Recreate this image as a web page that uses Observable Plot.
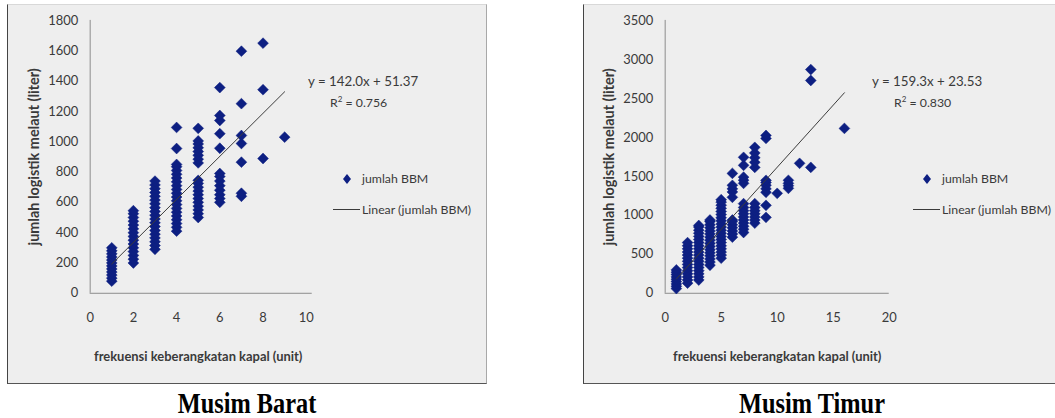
<!DOCTYPE html>
<html>
<head>
<meta charset="utf-8">
<script src="https://cdn.jsdelivr.net/npm/d3@7"></script>
<script src="https://cdn.jsdelivr.net/npm/@observablehq/plot@0.6"></script>
<style>
  html, body { margin: 0; padding: 0; background: #ffffff; }
  #page { position: relative; width: 1055px; height: 418px; overflow: hidden; background: #fff; }
  .panel { position: absolute; top: 4px; height: 380px; background: #eeeeee;
           border-style: solid; border-width: 1px; border-color: #d8d8d8 #a8a8a8 #555 #444; box-sizing: border-box; }
  .panel svg { position: absolute; left: 0; top: 0; overflow: visible; }
  .txt { position: absolute; font-family: Lato, "Liberation Sans", sans-serif; font-size: 12.3px; color: #3a3a3a; white-space: nowrap; line-height: 1; }
  .title { position: absolute; font-family: "Liberation Serif", "Times New Roman", serif; font-weight: bold; font-size: 29px; color: #000; white-space: nowrap; transform: translateX(-50%) scaleX(0.84); transform-origin: center; line-height: 1; }
  g[aria-label="y-axis label"] text { font-weight: bold; font-size: 14.5px; }
  g[aria-label="x-axis label"] text { font-weight: bold; font-size: 13px; }
</style>
</head>
<body>
<div id="page"></div>
<script>
// ---------- DATA ----------
const seasons = ["Musim Barat", "Musim Timur"];
const yAxisTitle = "jumlah logistik melaut (liter)";
const xAxisTitle = "frekuensi keberangkatan kapal (unit)";
const seriesName = "jumlah BBM";
const trendName = "Linear (jumlah BBM)";

// Musim Barat: [frekuensi, liter]
const baratPoints = [
  [1,80],[1,100],[1,120],[1,140],[1,160],[1,180],[1,200],[1,220],[1,240],[1,260],[1,280],[1,300],
  [2,200],[2,225],[2,250],[2,275],[2,300],[2,325],[2,350],[2,375],[2,400],[2,425],[2,450],[2,475],[2,500],[2,525],[2,545],
  [3,290],[3,315],[3,340],[3,365],[3,390],[3,415],[3,440],[3,465],[3,490],[3,515],[3,540],[3,565],[3,590],[3,615],[3,640],[3,665],[3,690],[3,715],[3,740],
  [4,410],[4,435],[4,460],[4,485],[4,510],[4,535],[4,560],[4,585],[4,610],[4,635],[4,660],[4,685],[4,710],[4,735],[4,760],[4,785],[4,810],[4,835],[4,850],[4,955],[4,1094],
  [5,500],[5,525],[5,550],[5,575],[5,600],[5,625],[5,650],[5,675],[5,700],[5,725],[5,745],[5,860],[5,885],[5,910],[5,935],[5,960],[5,985],[5,1005],[5,1088],
  [6,600],[6,625],[6,650],[6,680],[6,710],[6,740],[6,770],[6,790],[6,957],[6,1053],[6,1140],[6,1173],[6,1357],
  [7,640],[7,660],[7,865],[7,988],[7,1041],[7,1251],[7,1597],
  [8,889],[8,1343],[8,1650],
  [9,1030]
];
// Musim Timur: [frekuensi, liter]
const timurPoints = [
  [1,60],[1,90],[1,120],[1,150],[1,180],[1,210],[1,240],[1,270],[1,300],
  [2,130],[2,170],[2,210],[2,250],[2,290],[2,330],[2,370],[2,410],[2,450],[2,490],[2,530],[2,570],[2,610],[2,650],
  [3,170],[3,210],[3,250],[3,290],[3,330],[3,370],[3,410],[3,450],[3,490],[3,530],[3,570],[3,610],[3,650],[3,690],[3,730],[3,770],[3,810],[3,850],[3,870],
  [4,360],[4,400],[4,440],[4,480],[4,520],[4,560],[4,600],[4,640],[4,680],[4,720],[4,760],[4,800],[4,840],[4,880],[4,920],[4,940],
  [5,450],[5,490],[5,530],[5,570],[5,610],[5,650],[5,690],[5,730],[5,770],[5,810],[5,850],[5,890],[5,930],[5,970],[5,1010],[5,1050],[5,1090],[5,1130],[5,1170],[5,1200],
  [6,720],[6,760],[6,800],[6,840],[6,880],[6,920],[6,940],[6,1231],[6,1300],[6,1340],[6,1385],[6,1538],
  [7,780],[7,820],[7,860],[7,900],[7,940],[7,980],[7,1020],[7,1060],[7,1100],[7,1150],[7,1410],[7,1450],[7,1490],[7,1641],[7,1744],
  [8,900],[8,940],[8,980],[8,1020],[8,1060],[8,1100],[8,1150],[8,1615],[8,1680],[8,1740],[8,1800],[8,1872],
  [9,974],[9,1128],[9,1295],[9,1340],[9,1385],[9,1420],[9,1449],[9,1987],[9,2025],
  [10,1282],
  [11,1346],[11,1380],[11,1410],[11,1449],
  [12,1667],
  [13,1615],[13,2730],[13,2870],
  [16,2115]
];

const baratXTicks = [0, 2, 4, 6, 8, 10];
const baratYTicks = [0, 200, 400, 600, 800, 1000, 1200, 1400, 1600, 1800];
const timurXTicks = [0, 5, 10, 15, 20];
const timurYTicks = [0, 500, 1000, 1500, 2000, 2500, 3000, 3500];

// Linear trend: slope, intercept, R², x-range of the trendline
const baratTrend = { slope: 142.0, intercept: 51.37, r2: 0.756, from: 1, to: 9 };
const timurTrend = { slope: 159.3, intercept: 23.53, r2: 0.830, from: 1, to: 16 };

const baratEquation = ["y = 142.0x + 51.37", "R\u00b2 = 0.756"];
const timurEquation = ["y = 159.3x + 23.53", "R\u00b2 = 0.830"];

// ---------- STYLE ----------
const markerColor = "#0d1f82";
const trendColor = "#3a3a3a";
const axisColor = "#8c8c8c";
const fontFam = 'Lato, "Liberation Sans", sans-serif';

const page = document.getElementById("page");

function makePanel(cfg) {
  const panel = document.createElement("div");
  panel.className = "panel";
  panel.style.left = cfg.left + "px";
  panel.style.width = cfg.width + "px";
  page.appendChild(panel);

  const pts = cfg.points.map(([x, y]) => ({ x, y }));
  const t = cfg.trend;
  const trendLine = [t.from, t.to].map(x => ({ x, y: t.slope * x + t.intercept }));

  const chart = Plot.plot({
    width: cfg.width,
    height: 380,
    marginLeft: cfg.marginLeft,
    marginRight: cfg.marginRight,
    marginTop: 15,
    marginBottom: 91,
    style: { background: "transparent", fontFamily: fontFam, fontSize: "13px", color: "#3a3a3a", overflow: "visible" },
    x: { domain: cfg.xDomain, ticks: cfg.xTicks, tickFormat: d => String(d), tickSize: 0, tickPadding: 20, label: xAxisTitle, labelAnchor: "center", labelOffset: 68, labelArrow: "none" },
    y: { domain: cfg.yDomain, ticks: cfg.yTicks, tickFormat: d => String(d), tickSize: 0, tickPadding: 12, label: yAxisTitle, labelAnchor: "center", labelOffset: 62, labelArrow: "none" },
    marks: [
      Plot.ruleX([0], { stroke: axisColor, strokeWidth: 1 }),
      Plot.ruleY([0], { stroke: axisColor, strokeWidth: 1, insetRight: cfg.axisExtend }),
      Plot.dot(pts, { x: "x", y: "y", symbol: "diamond2", r: 4.9, fill: markerColor, stroke: markerColor, strokeWidth: 0.5 }),
      Plot.line(trendLine, { x: "x", y: "y", stroke: trendColor, strokeWidth: 1 })
    ]
  });
  panel.appendChild(chart);

  // regression equation
  const eq1 = document.createElement("div");
  eq1.className = "txt";
  eq1.style.fontSize = "13.3px";
  eq1.textContent = cfg.equation[0];
  eq1.style.left = cfg.eqLeft + "px"; eq1.style.top = "70px";
  panel.appendChild(eq1);
  const eq2 = document.createElement("div");
  eq2.className = "txt";
  eq2.innerHTML = cfg.equation[1].replace("\u00b2", "<sup style='font-size:8px;vertical-align:5px'>2</sup>");
  eq2.style.left = (cfg.eqLeft + 22) + "px"; eq2.style.top = "90px";
  panel.appendChild(eq2);

  // legend
  const lg = document.createElement("div");
  lg.style.position = "absolute";
  lg.style.left = cfg.legLeft + "px";
  lg.style.top = "160px";
  lg.innerHTML =
    `<svg width="140" height="60" style="position:absolute;left:0;top:0">
       <path d="M14,9 L18,14 L14,19 L10,14 Z" fill="${markerColor}"/>
       <line x1="0" x2="27" y1="44.5" y2="44.5" stroke="${trendColor}" stroke-width="1"/>
     </svg>
     <div class="txt" style="left:29px;top:8px">${seriesName}</div>
     <div class="txt" style="left:29px;top:39px">${trendName}</div>`;
  panel.appendChild(lg);

  // caption
  const cap = document.createElement("div");
  cap.className = "title";
  cap.textContent = cfg.caption;
  cap.style.left = cfg.captionX + "px";
  cap.style.top = "389px";
  page.appendChild(cap);
}

makePanel({
  left: 7, width: 480, marginLeft: 82, marginRight: 181,
  points: baratPoints, xDomain: [0, 10], yDomain: [0, 1800], xTicks: baratXTicks, yTicks: baratYTicks,
  trend: baratTrend, equation: baratEquation, axisExtend: -6,
  eqLeft: 300, legLeft: 325, caption: seasons[0], captionX: 247
});
makePanel({
  left: 583, width: 480, marginLeft: 81, marginRight: 174,
  points: timurPoints, xDomain: [0, 20], yDomain: [0, 3500], xTicks: timurXTicks, yTicks: timurYTicks,
  trend: timurTrend, equation: timurEquation, axisExtend: 0,
  eqLeft: 288, legLeft: 329, caption: seasons[1], captionX: 812
});
</script>
</body>
</html>
